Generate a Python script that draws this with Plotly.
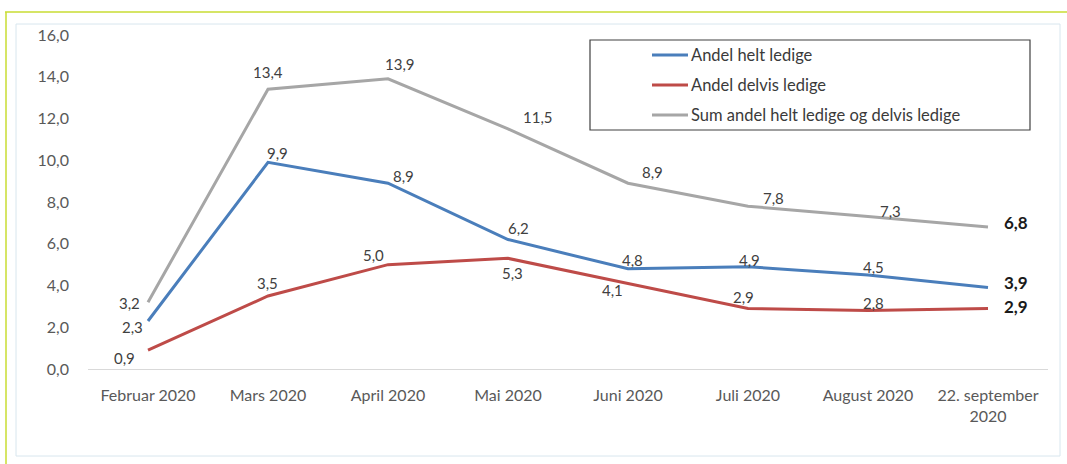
import plotly.graph_objects as go

categories = ["Februar 2020", "Mars 2020", "April 2020", "Mai 2020", "Juni 2020",
              "Juli 2020", "August 2020", "22. september<br>2020"]
helt = [2.3, 9.9, 8.9, 6.2, 4.8, 4.9, 4.5, 3.9]
delvis = [0.9, 3.5, 5.0, 5.3, 4.1, 2.9, 2.8, 2.9]
total = [3.2, 13.4, 13.9, 11.5, 8.9, 7.8, 7.3, 6.8]
names = ["Andel helt ledige", "Andel delvis ledige", "Sum andel helt ledige og delvis ledige"]
y_ticks = [0, 2, 4, 6, 8, 10, 12, 14, 16]

colors = ["#4A7EBB", "#BE4B48", "#A6A6A6"]
FONT = "Lato"

# label offsets (dx, dy in px, dy positive = up)
off_helt = [(-16, -6), (9, 9), (15, 7), (10, 12), (4, 9), (1, 7), (5, 8), (14, 5)]
off_delvis = [(-24, -8), (-1, 13), (-15, 10), (4, -15), (-16, -7), (-5, 11), (5, 8), (14, 2)]
off_total = [(-19, -1), (0, 17), (12, 15), (30, 12), (24, 11), (25, 8), (22, 6), (14, 5)]

W, H = 1067, 464
L, R, T, B = 88, 19, 35, 95
pw, ph = W - L - R, H - T - B


def px(x):
    return (x - L) / pw


def py(y):
    return (H - B - y) / ph


fig = go.Figure()
for vals, name, col in zip([helt, delvis, total], names, colors):
    fig.add_trace(go.Scatter(x=categories, y=vals, mode="lines", name=name,
                             line=dict(color=col, width=3), showlegend=False,
                             hoverinfo="skip"))

annotations = []
for vals, offs in zip([helt, delvis, total], [off_helt, off_delvis, off_total]):
    for i, (c, v) in enumerate(zip(categories, vals)):
        last = i == len(categories) - 1
        ann = dict(
            x=c, y=v, xref="x", yref="y", text=f"{v:.1f}".replace(".", ","),
            showarrow=False, xshift=offs[i][0], yshift=offs[i][1],
            font=dict(family=FONT, size=15,
                      color="#404040"),
        )
        if last:
            ann["xanchor"] = "left"
            ann["text"] = "<b>" + ann["text"] + "</b>"
            ann["font"] = dict(family=FONT, size=17, color="#1a1a1a")
        annotations.append(ann)

shapes = []
# outer decorative frame
shapes.append(dict(type="line", xref="paper", yref="paper", x0=px(5), x1=px(1067),
                   y0=py(12), y1=py(12), line=dict(color="#C8DC32", width=1.5)))
shapes.append(dict(type="line", xref="paper", yref="paper", x0=px(6), x1=px(6),
                   y0=py(12), y1=py(464), line=dict(color="#C8DC32", width=1.5)))
shapes.append(dict(type="rect", xref="paper", yref="paper", x0=px(16), x1=px(1060),
                   y0=py(24), y1=py(456), line=dict(color="#D8E6EE", width=1)))
# legend
shapes.append(dict(type="rect", xref="paper", yref="paper", x0=px(590), x1=px(1030),
                   y0=py(40), y1=py(130), line=dict(color="#404040", width=1.2),
                   fillcolor="white"))
for name, col, yy in zip(names, colors, [55, 85, 115]):
    shapes.append(dict(type="line", xref="paper", yref="paper", x0=px(652), x1=px(688),
                       y0=py(yy), y1=py(yy), line=dict(color=col, width=3)))
    annotations.append(dict(xref="paper", yref="paper", x=px(689), y=py(yy), text=name,
                            showarrow=False, xanchor="left", yanchor="middle",
                            font=dict(family=FONT, size=16.5, color="#3a3a3a")))

fig.update_layout(
    width=W, height=H,
    margin=dict(l=L, r=R, t=T, b=B),
    paper_bgcolor="white", plot_bgcolor="white",
    font=dict(family=FONT, color="#595959"),
    shapes=shapes, annotations=annotations,
    xaxis=dict(type="category", range=[-0.5, 7.5], showgrid=False, showline=True,
               linecolor="#D9D9D9", linewidth=1, ticks="", ticklabelstandoff=12,
               tickfont=dict(family=FONT, size=16, color="#595959"), zeroline=False),
    yaxis=dict(range=[0, 16], tickvals=y_ticks,
               ticktext=[f"{v:.1f}".replace(".", ",") for v in y_ticks],
               showgrid=False, showline=False, zeroline=False, ticks="",
               ticklabelstandoff=18,
               tickfont=dict(family=FONT, size=16, color="#595959")),
    showlegend=False,
)

fig.write_html("out.html", config={"displayModeBar": False},
               post_script="document.body.style.margin='0';")
